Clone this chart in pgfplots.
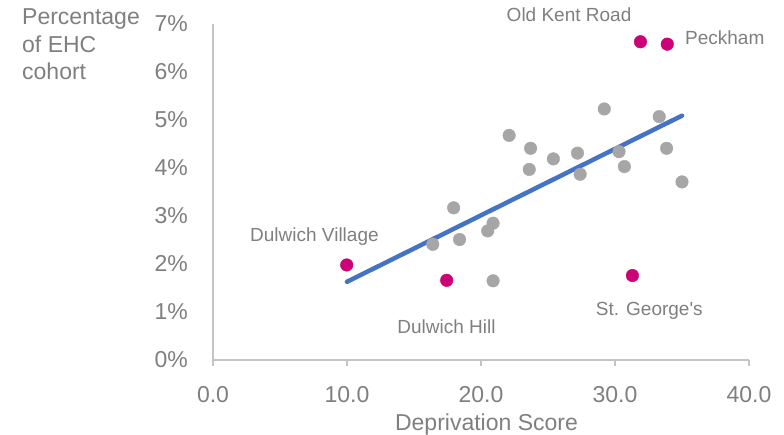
\documentclass[border=0pt]{standalone}
\usepackage{fontspec}
\setmainfont{Liberation Sans}
\usepackage{pgfplots}
\pgfplotsset{compat=1.18}
\definecolor{txtgray}{HTML}{7F7F7F}
\definecolor{axgray}{HTML}{C4C4C4}
\definecolor{dotgray}{HTML}{A6A6A6}
\definecolor{hot}{HTML}{CC0077}
\definecolor{trend}{HTML}{4472C4}

\newcommand{\bigtxt}{\fontsize{23}{27.5}\selectfont}
\newcommand{\lab}{\fontsize{19}{22}\selectfont}

\begin{document}
\begin{tikzpicture}[x=1pt,y=1pt]
\useasboundingbox (0,0) rectangle (784,435);
\begin{axis}[
    at={(213pt,75pt)}, anchor=south west,
    scale only axis, width=536pt, height=336pt,
    xmin=0, xmax=40, ymin=0, ymax=7,
    axis x line=bottom, axis y line=left,
    axis line style={draw=axgray, line width=1.5pt, -},
    xtick={0,10,20,30,40}, ytick={0,1,...,7},
    xticklabel={\pgfmathprintnumber[fixed,fixed zerofill,precision=1]{\tick}},
    yticklabel={\pgfmathprintnumber{\tick}\%},
    /pgf/number format/assume math mode=true,
    ticklabel style={font=\bigtxt, text=txtgray, inner sep=0pt},
    x tick label style={yshift=-20pt},
    y tick label style={xshift=-19pt},
    tick align=outside, major tick length=6pt,
    x tick style={draw=axgray, line width=1.5pt},
    y tick style={draw=none},
    clip=false,
]
% other wards
\addplot[dotgray, only marks, mark=*, mark size=6.3pt, mark options={fill=dotgray, draw=dotgray}] coordinates {
    (22.1,4.68) (23.7,4.41) (23.6,3.97) (25.4,4.19) (27.2,4.31) (27.4,3.87)
    (29.2,5.23) (30.3,4.34) (30.7,4.03) (33.3,5.07) (33.85,4.41) (35.0,3.71)
    (17.96,3.17) (16.4,2.41) (18.4,2.51) (20.5,2.69) (20.9,2.85) (20.9,1.65)
};
% trend line
\addplot[trend, line width=4.5pt, line cap=round] coordinates {
    (10.0,1.63) (35.0,5.09)
};
% highlighted wards
\addplot[hot, only marks, mark=*, mark size=6.3pt, mark options={fill=hot, draw=hot}] coordinates {
    (9.98,1.98) (17.44,1.66) (31.9,6.63) (33.9,6.58) (31.3,1.76)
};
\node[anchor=base, inner sep=0pt, text=txtgray, font=\lab] at (axis cs:26.57,7.05) {Old Kent Road};
\node[anchor=base west, inner sep=0pt, text=txtgray, font=\lab] at (axis cs:35.22,6.58) {Peckham};
\node[anchor=base west, inner sep=0pt, text=txtgray, font=\lab] at (axis cs:2.76,2.465) {Dulwich Village};
\node[anchor=base west, inner sep=0pt, text=txtgray, font=\lab] at (axis cs:13.75,0.542) {Dulwich Hill};
\node[anchor=base west, inner sep=0pt, text=txtgray, font=\lab] at (axis cs:28.56,0.917) {St. George\textquotesingle s};
\end{axis}
\node[anchor=base west, inner sep=0pt, text=txtgray, font=\bigtxt] at (22,410) {Percentage};
\node[anchor=base west, inner sep=0pt, text=txtgray, font=\bigtxt] at (22,382.5) {of EHC};
\node[anchor=base west, inner sep=0pt, text=txtgray, font=\bigtxt] at (22,355) {cohort};
\node[anchor=base, inner sep=0pt, text=txtgray, font=\bigtxt] at (486.5,4.3) {Deprivation Score};
\end{tikzpicture}
\end{document}
